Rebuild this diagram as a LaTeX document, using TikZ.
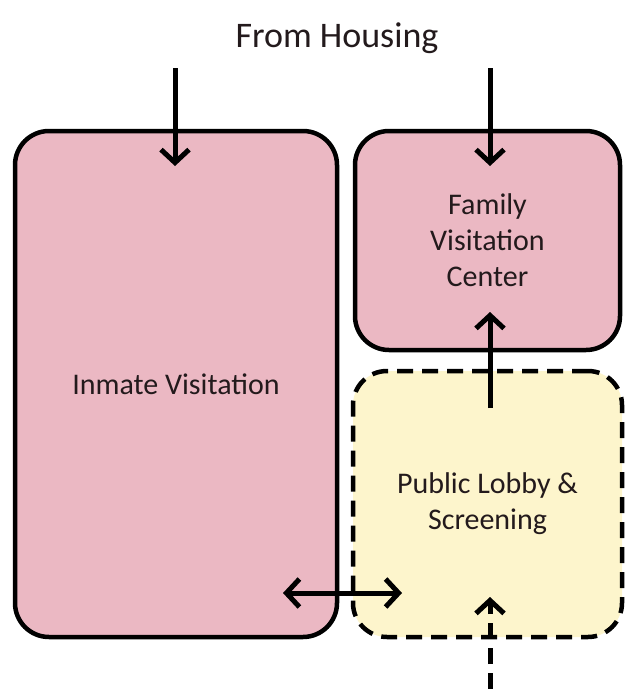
\documentclass[tikz,border=0pt]{standalone}
\usepackage{fontspec}
\setmainfont{Carlito}
\usetikzlibrary{arrows.meta}

\definecolor{roomPink}{HTML}{EBB8C3}
\definecolor{roomYellow}{HTML}{FDF5CC}
\definecolor{ink}{HTML}{231A1C}

\tikzset{
  room/.style={draw=black, line width=4.5pt, rounded corners=34pt, align=center,
    text=ink, font=\fontsize{30}{36}\selectfont, inner sep=0pt},
  secure/.style={room, fill=roomPink},
  publicroom/.style={room, fill=roomYellow, dash pattern=on 16pt off 9pt},
  flow/.style={line width=5pt, -{Straight Barb[length=13pt,width=28pt]}},
  twoway/.style={line width=5pt, {Straight Barb[length=13pt,width=28pt]}-{Straight Barb[length=13pt,width=28pt]}},
  publicflow/.style={flow, dash pattern=on 16pt off 9pt},
}

\begin{document}
\begin{tikzpicture}[x=1pt, y=-1pt]
  \useasboundingbox (0,0) rectangle (625,689);

  % rooms
  \node[secure, minimum width=322pt, minimum height=506pt] (inmate) at (176,384) {Inmate Visitation};
  \node[secure, minimum width=265pt, minimum height=219pt] (family) at (487.5,240.5) {Family\\Visitation\\Center};
  \node[publicroom, minimum width=269pt, minimum height=266pt] (lobby) at (487.5,504) {Public Lobby \&\\Screening};

  % heading
  \node[font=\fontsize{36}{40}\selectfont, text=ink] (housing) at (337,38) {From Housing};

  % connector end points
  \coordinate (inA) at (175,68);
  \coordinate (inB) at (175,166);
  \coordinate (famA) at (490,68);
  \coordinate (famB) at (490,166);
  \coordinate (lobUp) at (490,408);
  \coordinate (famIn) at (490,312);
  \coordinate (sideL) at (283,593);
  \coordinate (sideR) at (402,593);
  \coordinate (entry) at (490,689);
  \coordinate (entryTip) at (490,597);

  % circulation
  \draw[flow] (inA) -- (inB);
  \draw[flow] (famA) -- (famB);
  \draw[flow] (lobUp) -- (famIn);
  \draw[twoway] (sideL) -- (sideR);
  \draw[publicflow] (entry) -- (entryTip);
\end{tikzpicture}
\end{document}
